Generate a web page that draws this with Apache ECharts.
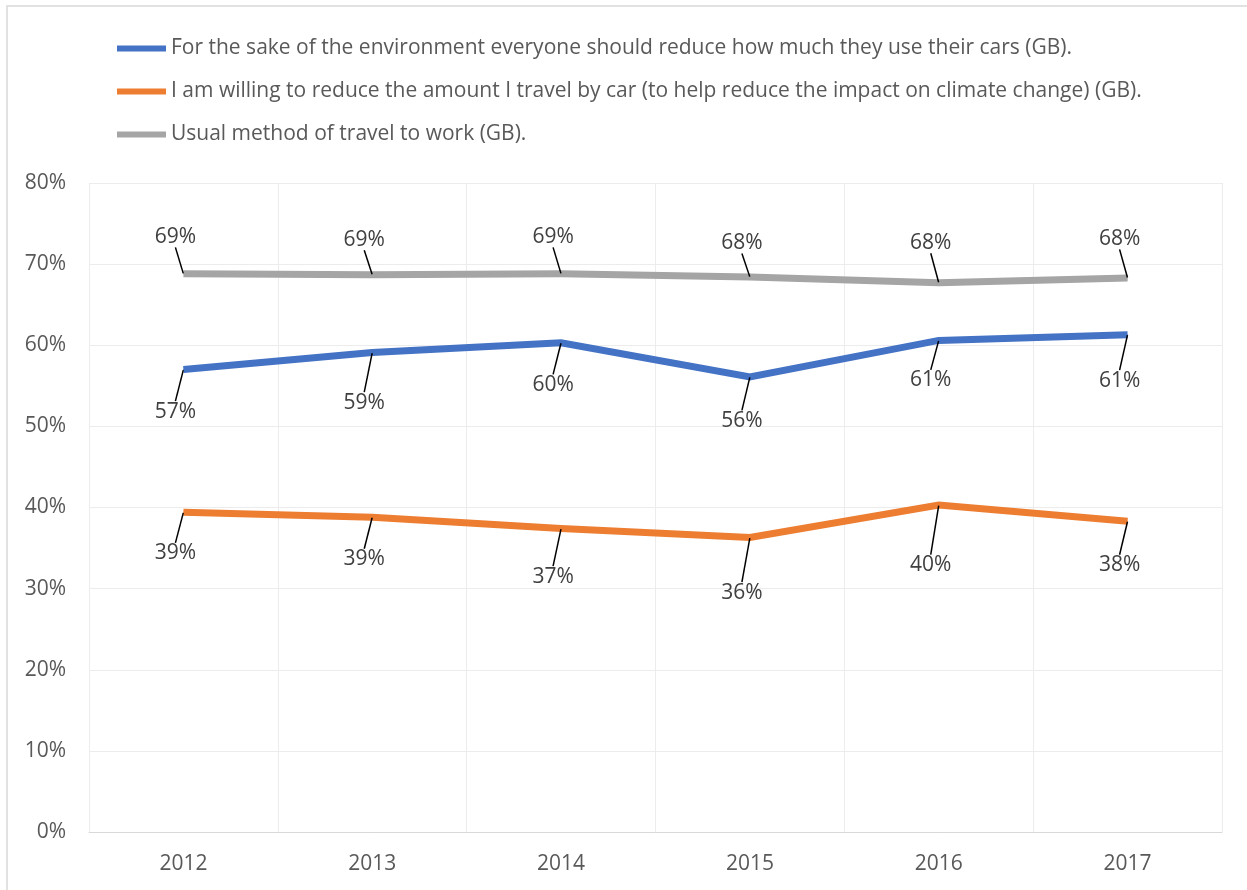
<!DOCTYPE html>
<html>
<head>
<meta charset="utf-8">
<title>Car use attitudes (GB)</title>
<script src="https://cdn.jsdelivr.net/npm/echarts@6/dist/echarts.min.js"></script>
<style>
  html, body { margin: 0; padding: 0; background: #fff; }
  #chart { width: 1247px; height: 890px; }
</style>
</head>
<body>
<div id="chart"></div>
<script>
// Survey years
const years = ['2012', '2013', '2014', '2015', '2016', '2017'];

// Share of respondents (%)
const reduceEveryone = [57.0, 59.1, 60.3, 56.1, 60.6, 61.3];
const willingReduce = [39.4, 38.8, 37.4, 36.3, 40.3, 38.3];
const usualCarToWork = [68.8, 68.7, 68.8, 68.4, 67.7, 68.3];

const seriesNames = [
  'For the sake of the environment everyone should reduce how much they use their cars (GB).',
  'I am willing to reduce the amount I travel by car (to help reduce the impact on climate change) (GB).',
  'Usual method of travel to work (GB).'
];
const seriesColors = ['#4472C4', '#ED7D31', '#A5A5A5'];

// Vertical offsets (px) of each data label from its point, connected by a leader line
const labelShiftBlue = [42, 50, 42, 44, 40, 46];
const labelShiftOrange = [41, 42, 48, 55, 60, 44];
const labelShiftGray = [-37, -35, -37, -34, -40, -39];

const FONT = 'Open Sans';
const TEXT = '#595959';
const FS = 21;

function lineSeries(name, data, color, shifts) {
  return {
    name: name,
    type: 'line',
    data: data,
    symbol: 'circle',
    symbolSize: 1,
    showSymbol: true,
    itemStyle: { color: color },
    lineStyle: { width: 7, color: color, cap: 'butt', join: 'miter' },
    label: {
      show: true,
      position: 'inside',
      formatter: p => Math.round(p.value) + '%',
      fontFamily: FONT,
      fontSize: FS,
      color: '#404040',
      padding: [2, 2, 2, 2]
    },
    labelLayout: p => ({ dx: -8, dy: shifts[p.dataIndex], hideOverlap: false }),
    labelLine: {
      show: true,
      showAbove: true,
      length2: 0,
      lineStyle: { color: '#000', width: 1.5 }
    },
    z: 2
  };
}

const chart = echarts.init(document.getElementById('chart'), null, { renderer: 'canvas' });

chart.setOption({
  backgroundColor: '#fff',
  animation: false,
  graphic: [{
    type: 'rect',
    shape: { x: 7, y: 6, width: 1260, height: 900 },
    style: { fill: null, stroke: '#d9d9d9', lineWidth: 1.5 },
    silent: true
  }],
  legend: {
    orient: 'vertical',
    left: 112,
    top: 33,
    itemGap: 22,
    itemWidth: 49,
    itemHeight: 6,
    icon: 'rect',
    textStyle: { fontFamily: FONT, fontSize: FS, color: TEXT, padding: [0, 0, 0, 0] },
    data: seriesNames
  },
  grid: { left: 89, right: 25, top: 183, bottom: 58, containLabel: false },
  xAxis: {
    type: 'category',
    data: years,
    boundaryGap: true,
    axisLine: { show: true, lineStyle: { color: '#d9d9d9', width: 1 } },
    axisTick: { show: false },
    axisLabel: { fontFamily: FONT, fontSize: FS, color: TEXT, margin: 22 },
    splitLine: { show: true, lineStyle: { color: '#ececec', width: 1 } }
  },
  yAxis: {
    type: 'value',
    min: 0,
    max: 80,
    interval: 10,
    axisLine: { show: false },
    axisTick: { show: false },
    axisLabel: { fontFamily: FONT, fontSize: FS, color: TEXT, margin: 23, formatter: '{value}%' },
    splitLine: { show: true, lineStyle: { color: '#ececec', width: 1 } }
  },
  series: [
    lineSeries(seriesNames[0], reduceEveryone, seriesColors[0], labelShiftBlue),
    lineSeries(seriesNames[1], willingReduce, seriesColors[1], labelShiftOrange),
    lineSeries(seriesNames[2], usualCarToWork, seriesColors[2], labelShiftGray)
  ]
});
</script>
</body>
</html>
